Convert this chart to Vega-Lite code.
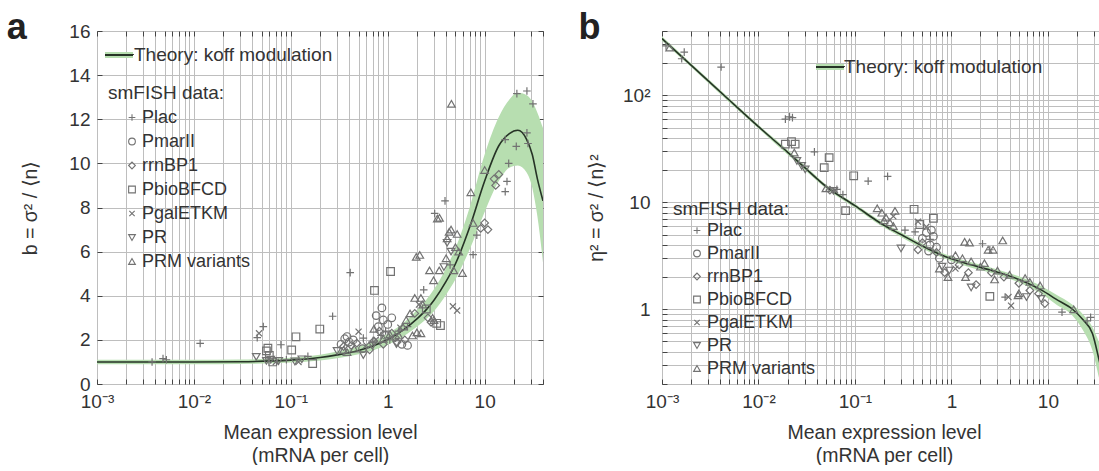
{
  "$schema": "https://vega.github.io/schema/vega-lite/v6.json",
  "padding": {"left": 6, "top": 9, "right": 0, "bottom": 0},
  "background": "white",
  "config": {
    "font": "Liberation Sans",
    "view": {"stroke": "#333", "strokeWidth": 1},
    "axis": {"labelFont": "Liberation Sans", "labelFontSize": 19, "labelColor": "#333", "titleFont": "Liberation Sans", "titleFontSize": 19.5, "titleFontWeight": "normal", "titleColor": "#333", "tickColor": "#444", "tickSize": -5, "domain": false, "gridColor": "#bebebe", "gridWidth": 1, "gridOpacity": 1, "labelOverlap": false, "labelFlush": false, "labelBound": false},
    "legend": {"labelFont": "Liberation Sans", "labelFontSize": 18, "labelColor": "#333", "titleFont": "Liberation Sans", "titleFontSize": 19, "titleFontWeight": "normal", "titleColor": "#333", "labelLimit": 400}
  },
  "datasets": {
    "theoryA": [
      {"x": 0.001, "lo": 0.9, "mid": 1.0, "hi": 1.1, "series": "Theory: koff modulation"},
      {"x": 0.01, "lo": 0.9, "mid": 1.0, "hi": 1.1, "series": "Theory: koff modulation"},
      {"x": 0.03, "lo": 0.91, "mid": 1.01, "hi": 1.11, "series": "Theory: koff modulation"},
      {"x": 0.1, "lo": 0.97, "mid": 1.08, "hi": 1.19, "series": "Theory: koff modulation"},
      {"x": 0.2, "lo": 1.07, "mid": 1.2, "hi": 1.33, "series": "Theory: koff modulation"},
      {"x": 0.3, "lo": 1.17, "mid": 1.32, "hi": 1.47, "series": "Theory: koff modulation"},
      {"x": 0.5, "lo": 1.35, "mid": 1.52, "hi": 1.7, "series": "Theory: koff modulation"},
      {"x": 0.7, "lo": 1.52, "mid": 1.72, "hi": 1.93, "series": "Theory: koff modulation"},
      {"x": 1, "lo": 1.78, "mid": 2.02, "hi": 2.28, "series": "Theory: koff modulation"},
      {"x": 1.5, "lo": 2.2, "mid": 2.5, "hi": 2.82, "series": "Theory: koff modulation"},
      {"x": 2, "lo": 2.6, "mid": 2.95, "hi": 3.35, "series": "Theory: koff modulation"},
      {"x": 2.5, "lo": 2.95, "mid": 3.37, "hi": 3.82, "series": "Theory: koff modulation"},
      {"x": 3, "lo": 3.3, "mid": 3.8, "hi": 4.3, "series": "Theory: koff modulation"},
      {"x": 4, "lo": 4.05, "mid": 4.65, "hi": 5.25, "series": "Theory: koff modulation"},
      {"x": 5, "lo": 4.75, "mid": 5.45, "hi": 6.15, "series": "Theory: koff modulation"},
      {"x": 7, "lo": 6.1, "mid": 7.1, "hi": 8.0, "series": "Theory: koff modulation"},
      {"x": 10, "lo": 7.8, "mid": 9.2, "hi": 10.4, "series": "Theory: koff modulation"},
      {"x": 14, "lo": 9.2, "mid": 10.8, "hi": 12.1, "series": "Theory: koff modulation"},
      {"x": 18, "lo": 9.8, "mid": 11.35, "hi": 12.9, "series": "Theory: koff modulation"},
      {"x": 22, "lo": 9.9, "mid": 11.5, "hi": 13.2, "series": "Theory: koff modulation"},
      {"x": 27, "lo": 9.6, "mid": 11.1, "hi": 13.1, "series": "Theory: koff modulation"},
      {"x": 31, "lo": 8.9, "mid": 10.4, "hi": 12.8, "series": "Theory: koff modulation"},
      {"x": 35, "lo": 7.6, "mid": 9.3, "hi": 12.3, "series": "Theory: koff modulation"},
      {"x": 40, "lo": 5.5, "mid": 8.3, "hi": 11.6, "series": "Theory: koff modulation"}
    ],
    "theoryB": [
      {"x": 0.001, "lo": 325, "mid": 340, "hi": 355, "series": "Theory: koff modulation"},
      {"x": 0.002, "lo": 184, "mid": 192, "hi": 200, "series": "Theory: koff modulation"},
      {"x": 0.005, "lo": 86, "mid": 90, "hi": 94, "series": "Theory: koff modulation"},
      {"x": 0.01, "lo": 49, "mid": 51, "hi": 53, "series": "Theory: koff modulation"},
      {"x": 0.02, "lo": 28, "mid": 29.5, "hi": 31, "series": "Theory: koff modulation"},
      {"x": 0.03, "lo": 20.2, "mid": 21.2, "hi": 22.2, "series": "Theory: koff modulation"},
      {"x": 0.05, "lo": 13.5, "mid": 14.1, "hi": 14.7, "series": "Theory: koff modulation"},
      {"x": 0.1, "lo": 8.9, "mid": 9.3, "hi": 9.7, "series": "Theory: koff modulation"},
      {"x": 0.2, "lo": 5.8, "mid": 6.1, "hi": 6.4, "series": "Theory: koff modulation"},
      {"x": 0.3, "lo": 4.75, "mid": 5.0, "hi": 5.25, "series": "Theory: koff modulation"},
      {"x": 0.5, "lo": 3.7, "mid": 3.9, "hi": 4.1, "series": "Theory: koff modulation"},
      {"x": 0.8, "lo": 3.05, "mid": 3.2, "hi": 3.35, "series": "Theory: koff modulation"},
      {"x": 1.3, "lo": 2.6, "mid": 2.75, "hi": 2.9, "series": "Theory: koff modulation"},
      {"x": 2.6, "lo": 2.18, "mid": 2.31, "hi": 2.45, "series": "Theory: koff modulation"},
      {"x": 5, "lo": 1.78, "mid": 1.9, "hi": 2.03, "series": "Theory: koff modulation"},
      {"x": 8.7, "lo": 1.38, "mid": 1.5, "hi": 1.63, "series": "Theory: koff modulation"},
      {"x": 12, "lo": 1.12, "mid": 1.25, "hi": 1.38, "series": "Theory: koff modulation"},
      {"x": 18, "lo": 0.87, "mid": 1.0, "hi": 1.1, "series": "Theory: koff modulation"},
      {"x": 23, "lo": 0.64, "mid": 0.8, "hi": 0.9, "series": "Theory: koff modulation"},
      {"x": 29, "lo": 0.41, "mid": 0.59, "hi": 0.68, "series": "Theory: koff modulation"},
      {"x": 35, "lo": 0.2, "mid": 0.3, "hi": 0.45, "series": "Theory: koff modulation"},
      {"x": 40, "lo": 0.12, "mid": 0.2, "hi": 0.3, "series": "Theory: koff modulation"}
    ],
    "ptsA": [
      {"x": 0.0037, "y": 1.0, "promoter": "Plac"}, {"x": 0.0048, "y": 1.15, "promoter": "Plac"}, {"x": 0.0052, "y": 1.1, "promoter": "Plac"}, {"x": 0.0116, "y": 1.84, "promoter": "Plac"}, {"x": 0.045, "y": 2.1, "promoter": "Plac"}, {"x": 0.052, "y": 2.6, "promoter": "Plac"}, {"x": 0.079, "y": 1.78, "promoter": "Plac"}, {"x": 0.15, "y": 1.25, "promoter": "Plac"}, {"x": 0.27, "y": 3.07, "promoter": "Plac"}, {"x": 0.41, "y": 5.05, "promoter": "Plac"}, {"x": 0.56, "y": 2.08, "promoter": "Plac"}, {"x": 0.95, "y": 2.4, "promoter": "Plac"}, {"x": 1.05, "y": 2.0, "promoter": "Plac"}, {"x": 1.3, "y": 2.4, "promoter": "Plac"}, {"x": 1.6, "y": 2.6, "promoter": "Plac"}, {"x": 2.35, "y": 4.27, "promoter": "Plac"}, {"x": 3.05, "y": 7.73, "promoter": "Plac"}, {"x": 3.9, "y": 8.3, "promoter": "Plac"}, {"x": 4.4, "y": 5.4, "promoter": "Plac"}, {"x": 7.6, "y": 5.86, "promoter": "Plac"}, {"x": 8.3, "y": 6.75, "promoter": "Plac"}, {"x": 16.3, "y": 11.08, "promoter": "Plac"}, {"x": 17.7, "y": 10.0, "promoter": "Plac"}, {"x": 17.0, "y": 9.18, "promoter": "Plac"}, {"x": 16.3, "y": 8.72, "promoter": "Plac"}, {"x": 21.2, "y": 10.77, "promoter": "Plac"}, {"x": 21.5, "y": 13.16, "promoter": "Plac"}, {"x": 27.3, "y": 13.28, "promoter": "Plac"}, {"x": 31.5, "y": 12.7, "promoter": "Plac"}, {"x": 27.3, "y": 11.38, "promoter": "Plac"}, {"x": 28, "y": 10.9, "promoter": "Plac"}, {"x": 0.09, "y": 1.1, "promoter": "Plac"}, {"x": 0.7, "y": 1.9, "promoter": "Plac"}, {"x": 0.85, "y": 2.2, "promoter": "Plac"},
      {"x": 0.33, "y": 1.8, "promoter": "PmarII"}, {"x": 0.36, "y": 2.05, "promoter": "PmarII"}, {"x": 0.4, "y": 1.9, "promoter": "PmarII"}, {"x": 0.44, "y": 2.0, "promoter": "PmarII"}, {"x": 0.38, "y": 2.15, "promoter": "PmarII"}, {"x": 0.87, "y": 3.45, "promoter": "PmarII"}, {"x": 0.76, "y": 3.1, "promoter": "PmarII"}, {"x": 0.8, "y": 2.6, "promoter": "PmarII"}, {"x": 0.9, "y": 2.9, "promoter": "PmarII"}, {"x": 1.0, "y": 2.7, "promoter": "PmarII"}, {"x": 0.95, "y": 2.2, "promoter": "PmarII"}, {"x": 1.4, "y": 1.8, "promoter": "PmarII"}, {"x": 1.6, "y": 1.75, "promoter": "PmarII"}, {"x": 0.55, "y": 1.6, "promoter": "PmarII"}, {"x": 1.1, "y": 3.0, "promoter": "PmarII"},
      {"x": 0.35, "y": 1.7, "promoter": "rrnBP1"}, {"x": 0.42, "y": 1.75, "promoter": "rrnBP1"}, {"x": 0.48, "y": 1.85, "promoter": "rrnBP1"}, {"x": 0.72, "y": 1.95, "promoter": "rrnBP1"}, {"x": 0.82, "y": 2.4, "promoter": "rrnBP1"}, {"x": 0.9, "y": 1.8, "promoter": "rrnBP1"}, {"x": 1.1, "y": 2.3, "promoter": "rrnBP1"}, {"x": 1.2, "y": 2.1, "promoter": "rrnBP1"}, {"x": 1.25, "y": 1.9, "promoter": "rrnBP1"}, {"x": 1.5, "y": 2.0, "promoter": "rrnBP1"}, {"x": 2.6, "y": 3.0, "promoter": "rrnBP1"}, {"x": 2.8, "y": 2.8, "promoter": "rrnBP1"}, {"x": 9.1, "y": 7.05, "promoter": "rrnBP1"}, {"x": 10, "y": 7.3, "promoter": "rrnBP1"}, {"x": 10.8, "y": 7.0, "promoter": "rrnBP1"}, {"x": 12.5, "y": 9.3, "promoter": "rrnBP1"}, {"x": 13, "y": 9.0, "promoter": "rrnBP1"}, {"x": 14, "y": 9.5, "promoter": "rrnBP1"}, {"x": 1.9, "y": 3.2, "promoter": "rrnBP1"}, {"x": 0.65, "y": 1.55, "promoter": "rrnBP1"},
      {"x": 0.056, "y": 1.5, "promoter": "PbioBFCD"}, {"x": 0.058, "y": 1.62, "promoter": "PbioBFCD"}, {"x": 0.06, "y": 1.3, "promoter": "PbioBFCD"}, {"x": 0.102, "y": 1.54, "promoter": "PbioBFCD"}, {"x": 0.113, "y": 2.14, "promoter": "PbioBFCD"}, {"x": 0.168, "y": 0.93, "promoter": "PbioBFCD"}, {"x": 0.199, "y": 2.49, "promoter": "PbioBFCD"}, {"x": 0.73, "y": 4.24, "promoter": "PbioBFCD"}, {"x": 1.07, "y": 5.1, "promoter": "PbioBFCD"}, {"x": 3.5, "y": 2.65, "promoter": "PbioBFCD"}, {"x": 3.2, "y": 2.75, "promoter": "PbioBFCD"}, {"x": 0.065, "y": 1.0, "promoter": "PbioBFCD"}, {"x": 2.5, "y": 3.4, "promoter": "PbioBFCD"},
      {"x": 0.047, "y": 2.3, "promoter": "PgalETKM"}, {"x": 0.07, "y": 1.0, "promoter": "PgalETKM"}, {"x": 0.5, "y": 2.37, "promoter": "PgalETKM"}, {"x": 0.6, "y": 1.75, "promoter": "PgalETKM"}, {"x": 4.7, "y": 3.52, "promoter": "PgalETKM"}, {"x": 5.2, "y": 3.33, "promoter": "PgalETKM"}, {"x": 1.35, "y": 2.55, "promoter": "PgalETKM"}, {"x": 2.1, "y": 3.6, "promoter": "PgalETKM"}, {"x": 0.12, "y": 1.0, "promoter": "PgalETKM"}, {"x": 0.75, "y": 2.0, "promoter": "PgalETKM"},
      {"x": 0.044, "y": 1.23, "promoter": "PR"}, {"x": 0.056, "y": 1.05, "promoter": "PR"}, {"x": 0.062, "y": 1.1, "promoter": "PR"}, {"x": 0.075, "y": 1.05, "promoter": "PR"}, {"x": 0.11, "y": 1.02, "promoter": "PR"}, {"x": 0.13, "y": 1.12, "promoter": "PR"}, {"x": 0.56, "y": 1.31, "promoter": "PR"}, {"x": 1.23, "y": 1.81, "promoter": "PR"}, {"x": 0.7, "y": 1.75, "promoter": "PR"}, {"x": 4.1, "y": 6.4, "promoter": "PR"}, {"x": 4.5, "y": 6.0, "promoter": "PR"}, {"x": 3.8, "y": 5.3, "promoter": "PR"}, {"x": 0.3, "y": 1.5, "promoter": "PR"},
      {"x": 0.35, "y": 1.55, "promoter": "PRM variants"}, {"x": 0.38, "y": 1.45, "promoter": "PRM variants"}, {"x": 0.45, "y": 1.6, "promoter": "PRM variants"}, {"x": 0.72, "y": 2.5, "promoter": "PRM variants"}, {"x": 0.9, "y": 2.05, "promoter": "PRM variants"}, {"x": 1.05, "y": 2.25, "promoter": "PRM variants"}, {"x": 1.43, "y": 2.6, "promoter": "PRM variants"}, {"x": 1.55, "y": 2.9, "promoter": "PRM variants"}, {"x": 1.7, "y": 3.2, "promoter": "PRM variants"}, {"x": 1.97, "y": 5.76, "promoter": "PRM variants"}, {"x": 2.14, "y": 5.85, "promoter": "PRM variants"}, {"x": 2.0, "y": 2.34, "promoter": "PRM variants"}, {"x": 2.2, "y": 2.3, "promoter": "PRM variants"}, {"x": 2.3, "y": 3.6, "promoter": "PRM variants"}, {"x": 2.7, "y": 5.15, "promoter": "PRM variants"}, {"x": 2.97, "y": 4.7, "promoter": "PRM variants"}, {"x": 3.25, "y": 7.5, "promoter": "PRM variants"}, {"x": 3.4, "y": 5.15, "promoter": "PRM variants"}, {"x": 2.9, "y": 3.0, "promoter": "PRM variants"}, {"x": 4.0, "y": 5.7, "promoter": "PRM variants"}, {"x": 4.1, "y": 6.6, "promoter": "PRM variants"}, {"x": 4.3, "y": 6.9, "promoter": "PRM variants"}, {"x": 4.5, "y": 7.0, "promoter": "PRM variants"}, {"x": 4.54, "y": 12.7, "promoter": "PRM variants"}, {"x": 4.8, "y": 5.15, "promoter": "PRM variants"}, {"x": 5.0, "y": 6.2, "promoter": "PRM variants"}, {"x": 5.2, "y": 6.8, "promoter": "PRM variants"}, {"x": 5.4, "y": 6.0, "promoter": "PRM variants"}, {"x": 5.9, "y": 5.03, "promoter": "PRM variants"}, {"x": 7.2, "y": 8.69, "promoter": "PRM variants"}, {"x": 7.6, "y": 7.3, "promoter": "PRM variants"}, {"x": 10.0, "y": 9.7, "promoter": "PRM variants"}, {"x": 3.42, "y": 7.53, "promoter": "PRM variants"}, {"x": 1.8, "y": 2.2, "promoter": "PRM variants"}, {"x": 1.9, "y": 3.9, "promoter": "PRM variants"}, {"x": 2.2, "y": 3.9, "promoter": "PRM variants"}, {"x": 3.0, "y": 2.9, "promoter": "PRM variants"}, {"x": 1.3, "y": 2.2, "promoter": "PRM variants"}
    ],
    "ptsB": [
      {"x": 0.0011, "y": 290, "promoter": "Plac"}, {"x": 0.0016, "y": 220, "promoter": "Plac"}, {"x": 0.0017, "y": 254, "promoter": "Plac"}, {"x": 0.0041, "y": 184, "promoter": "Plac"}, {"x": 0.019, "y": 60, "promoter": "Plac"}, {"x": 0.021, "y": 63, "promoter": "Plac"}, {"x": 0.0225, "y": 62, "promoter": "Plac"}, {"x": 0.038, "y": 29.6, "promoter": "Plac"}, {"x": 0.065, "y": 13.2, "promoter": "Plac"}, {"x": 0.075, "y": 11.8, "promoter": "Plac"}, {"x": 0.137, "y": 15.8, "promoter": "Plac"}, {"x": 0.218, "y": 17.5, "promoter": "Plac"}, {"x": 0.33, "y": 5.5, "promoter": "Plac"}, {"x": 0.42, "y": 5.3, "promoter": "Plac"}, {"x": 2.1, "y": 4.1, "promoter": "Plac"}, {"x": 3.6, "y": 1.3, "promoter": "Plac"}, {"x": 14, "y": 0.94, "promoter": "Plac"}, {"x": 25.5, "y": 0.78, "promoter": "Plac"}, {"x": 27.7, "y": 0.84, "promoter": "Plac"}, {"x": 2.5, "y": 3.6, "promoter": "Plac"}, {"x": 0.6, "y": 4.5, "promoter": "Plac"},
      {"x": 0.5, "y": 4.6, "promoter": "PmarII"}, {"x": 0.55, "y": 5.2, "promoter": "PmarII"}, {"x": 0.6, "y": 4.0, "promoter": "PmarII"}, {"x": 0.65, "y": 4.8, "promoter": "PmarII"}, {"x": 0.7, "y": 3.8, "promoter": "PmarII"}, {"x": 0.58, "y": 3.5, "promoter": "PmarII"}, {"x": 0.62, "y": 5.5, "promoter": "PmarII"}, {"x": 0.75, "y": 3.0, "promoter": "PmarII"}, {"x": 1.0, "y": 2.9, "promoter": "PmarII"},
      {"x": 0.055, "y": 13.0, "promoter": "rrnBP1"}, {"x": 0.45, "y": 3.6, "promoter": "rrnBP1"}, {"x": 0.5, "y": 4.2, "promoter": "rrnBP1"}, {"x": 0.7, "y": 3.4, "promoter": "rrnBP1"}, {"x": 0.85, "y": 2.2, "promoter": "rrnBP1"}, {"x": 1.2, "y": 2.6, "promoter": "rrnBP1"}, {"x": 1.5, "y": 2.2, "promoter": "rrnBP1"}, {"x": 1.8, "y": 1.7, "promoter": "rrnBP1"}, {"x": 2.6, "y": 2.2, "promoter": "rrnBP1"}, {"x": 3.5, "y": 2.0, "promoter": "rrnBP1"}, {"x": 5, "y": 1.75, "promoter": "rrnBP1"}, {"x": 6.5, "y": 1.5, "promoter": "rrnBP1"}, {"x": 9.3, "y": 1.13, "promoter": "rrnBP1"}, {"x": 8, "y": 1.4, "promoter": "rrnBP1"},
      {"x": 0.019, "y": 35, "promoter": "PbioBFCD"}, {"x": 0.022, "y": 37, "promoter": "PbioBFCD"}, {"x": 0.024, "y": 35, "promoter": "PbioBFCD"}, {"x": 0.048, "y": 21.1, "promoter": "PbioBFCD"}, {"x": 0.054, "y": 26.2, "promoter": "PbioBFCD"}, {"x": 0.08, "y": 8.35, "promoter": "PbioBFCD"}, {"x": 0.097, "y": 17.7, "promoter": "PbioBFCD"}, {"x": 0.41, "y": 8.6, "promoter": "PbioBFCD"}, {"x": 0.65, "y": 7.1, "promoter": "PbioBFCD"}, {"x": 2.5, "y": 1.32, "promoter": "PbioBFCD"}, {"x": 0.47, "y": 6.2, "promoter": "PbioBFCD"},
      {"x": 0.062, "y": 13.0, "promoter": "PgalETKM"}, {"x": 0.45, "y": 6.6, "promoter": "PgalETKM"}, {"x": 0.55, "y": 5.9, "promoter": "PgalETKM"}, {"x": 4.15, "y": 1.08, "promoter": "PgalETKM"}, {"x": 3.9, "y": 1.3, "promoter": "PgalETKM"}, {"x": 1.1, "y": 2.4, "promoter": "PgalETKM"}, {"x": 0.25, "y": 7.4, "promoter": "PgalETKM"},
      {"x": 0.025, "y": 24.4, "promoter": "PR"}, {"x": 0.028, "y": 21.9, "promoter": "PR"}, {"x": 0.0305, "y": 20.3, "promoter": "PR"}, {"x": 0.06, "y": 12.8, "promoter": "PR"}, {"x": 0.3, "y": 3.7, "promoter": "PR"}, {"x": 0.8, "y": 2.5, "promoter": "PR"}, {"x": 0.95, "y": 2.3, "promoter": "PR"}, {"x": 1.6, "y": 1.6, "promoter": "PR"}, {"x": 6, "y": 1.3, "promoter": "PR"}, {"x": 8.5, "y": 1.25, "promoter": "PR"},
      {"x": 0.0012, "y": 280, "promoter": "PRM variants"}, {"x": 0.0235, "y": 29.2, "promoter": "PRM variants"}, {"x": 0.05, "y": 13.5, "promoter": "PRM variants"}, {"x": 0.17, "y": 8.8, "promoter": "PRM variants"}, {"x": 0.19, "y": 8.0, "promoter": "PRM variants"}, {"x": 0.21, "y": 7.2, "promoter": "PRM variants"}, {"x": 0.23, "y": 6.5, "promoter": "PRM variants"}, {"x": 0.25, "y": 6.0, "promoter": "PRM variants"}, {"x": 0.2, "y": 6.8, "promoter": "PRM variants"}, {"x": 0.26, "y": 8.3, "promoter": "PRM variants"}, {"x": 0.75, "y": 2.4, "promoter": "PRM variants"}, {"x": 0.92, "y": 2.0, "promoter": "PRM variants"}, {"x": 1.37, "y": 4.27, "promoter": "PRM variants"}, {"x": 1.54, "y": 4.2, "promoter": "PRM variants"}, {"x": 2.4, "y": 3.6, "promoter": "PRM variants"}, {"x": 2.7, "y": 3.6, "promoter": "PRM variants"}, {"x": 3.4, "y": 4.4, "promoter": "PRM variants"}, {"x": 1.3, "y": 3.0, "promoter": "PRM variants"}, {"x": 1.6, "y": 2.8, "promoter": "PRM variants"}, {"x": 2.0, "y": 2.5, "promoter": "PRM variants"}, {"x": 2.2, "y": 2.7, "promoter": "PRM variants"}, {"x": 3.0, "y": 2.3, "promoter": "PRM variants"}, {"x": 4.0, "y": 2.1, "promoter": "PRM variants"}, {"x": 5.0, "y": 1.41, "promoter": "PRM variants"}, {"x": 5.8, "y": 1.96, "promoter": "PRM variants"}, {"x": 4.9, "y": 1.35, "promoter": "PRM variants"}, {"x": 6.5, "y": 1.8, "promoter": "PRM variants"}, {"x": 8.3, "y": 1.67, "promoter": "PRM variants"}, {"x": 18.5, "y": 1.0, "promoter": "PRM variants"}, {"x": 1.1, "y": 3.2, "promoter": "PRM variants"}, {"x": 1.4, "y": 2.0, "promoter": "PRM variants"}, {"x": 2.8, "y": 1.9, "promoter": "PRM variants"}
    ]
  },
  "resolve": {"scale": {"x": "independent", "y": "independent", "fill": "independent", "shape": "independent"}, "legend": {"fill": "independent", "shape": "independent"}},
  "spacing": 34,
  "hconcat": [
    {
      "width": 446, "height": 353,
      "title": {"text": "a", "anchor": "start", "frame": "bounds", "fontSize": 36, "fontWeight": "bold", "color": "#222", "font": "Liberation Sans", "offset": -25, "dx": -14},
      "resolve": {"axis": {"x": "independent", "y": "independent"}},
      "layer": [
        {
          "data": {"name": "theoryA"},
          "mark": {"type": "area", "clip": true, "interpolate": "monotone", "opacity": 1},
          "encoding": {
            "x": {"field": "x", "type": "quantitative", "scale": {"type": "log", "domain": [0.001, 40], "nice": false},
                  "axis": {"orient": "bottom", "values": [0.001,0.002,0.003,0.004,0.005,0.006,0.007,0.008,0.009,0.01,0.02,0.03,0.04,0.05,0.06,0.07,0.08,0.09,0.1,0.2,0.3,0.4,0.5,0.6,0.7,0.8,0.9,1,2,3,4,5,6,7,8,9,10,20,30,40],
                           "labelExpr": "datum.value == 0.001 ? '10⁻³' : datum.value == 0.01 ? '10⁻²' : datum.value == 0.1 ? '10⁻¹' : datum.value == 1 ? '1' : datum.value == 10 ? '10' : ''",
                           "labelPadding": 13, "title": ["Mean expression level", "(mRNA per cell)"], "titlePadding": 12, "titleLineHeight": 23, "grid": true}},
            "y": {"field": "lo", "type": "quantitative", "scale": {"domain": [0, 16], "nice": false},
                  "axis": {"orient": "left", "values": [0,2,4,6,8,10,12,14,16], "labelPadding": 12, "title": "b = σ² / ⟨n⟩", "titlePadding": 28, "grid": true}},
            "y2": {"field": "hi"},
            "fill": {"field": "series", "type": "nominal", "scale": {"range": ["#b7deb0"]},
                     "legend": {"orient": "none", "legendX": 12, "legendY": 14, "title": null, "labelFontSize": 19, "symbolType": "M-1.6,0H1.6V0.35H-1.6V-0.35H1.6V0", "symbolSize": 306, "symbolStrokeColor": "#263326", "symbolStrokeWidth": 1.8, "symbolDash": [28, 500], "labelOffset": 5}}
          }
        },
        {
          "data": {"name": "theoryA"},
          "mark": {"type": "line", "clip": true, "interpolate": "monotone", "color": "#263326", "strokeWidth": 1.6},
          "encoding": {
            "x": {"field": "x", "type": "quantitative", "axis": {"orient": "top", "values": [0.001,0.002,0.003,0.004,0.005,0.006,0.007,0.008,0.009,0.01,0.02,0.03,0.04,0.05,0.06,0.07,0.08,0.09,0.1,0.2,0.3,0.4,0.5,0.6,0.7,0.8,0.9,1,2,3,4,5,6,7,8,9,10,20,30,40], "labels": false, "grid": false, "title": null}},
            "y": {"field": "mid", "type": "quantitative", "axis": {"orient": "right", "values": [0,2,4,6,8,10,12,14,16], "labels": false, "grid": false, "title": null}}
          }
        },
        {
          "data": {"name": "ptsA"},
          "mark": {"type": "point", "filled": false, "color": "#727272", "size": 58, "strokeWidth": 1.2, "opacity": 1, "clip": true},
          "encoding": {
            "x": {"field": "x", "type": "quantitative", "axis": null},
            "y": {"field": "y", "type": "quantitative", "axis": null},
            "shape": {"field": "promoter", "type": "nominal",
                      "scale": {"domain": ["Plac", "PmarII", "rrnBP1", "PbioBFCD", "PgalETKM", "PR", "PRM variants"], "range": ["M-1,0H1M0,-1V1", "circle", "diamond", "square", "M-0.8,-0.8L0.8,0.8M-0.8,0.8L0.8,-0.8", "triangle-down", "triangle-up"]},
                      "legend": {"orient": "none", "legendX": 11, "legendY": 53, "title": "smFISH data:", "symbolOffset": 15, "symbolSize": 45, "symbolStrokeColor": "#727272", "symbolStrokeWidth": 1.1, "symbolFillColor": "transparent", "rowPadding": 6, "titlePadding": 5.5, "labelOffset": 1, "titleAnchor": "start"}}
          }
        }
      ]
    },
    {
      "width": 444, "height": 353,
      "title": {"text": "b", "anchor": "start", "frame": "bounds", "fontSize": 36, "fontWeight": "bold", "color": "#222", "font": "Liberation Sans", "offset": -25, "dx": -8},
      "resolve": {"axis": {"x": "independent", "y": "independent"}},
      "layer": [
        {
          "data": {"name": "theoryB"},
          "mark": {"type": "area", "clip": true, "interpolate": "monotone", "opacity": 1},
          "encoding": {
            "x": {"field": "x", "type": "quantitative", "scale": {"type": "log", "domain": [0.001, 40], "nice": false},
                  "axis": {"orient": "bottom", "values": [0.001,0.002,0.003,0.004,0.005,0.006,0.007,0.008,0.009,0.01,0.02,0.03,0.04,0.05,0.06,0.07,0.08,0.09,0.1,0.2,0.3,0.4,0.5,0.6,0.7,0.8,0.9,1,2,3,4,5,6,7,8,9,10,20,30,40],
                           "labelExpr": "datum.value == 0.001 ? '10⁻³' : datum.value == 0.01 ? '10⁻²' : datum.value == 0.1 ? '10⁻¹' : datum.value == 1 ? '1' : datum.value == 10 ? '10' : ''",
                           "labelPadding": 13, "title": ["Mean expression level", "(mRNA per cell)"], "titlePadding": 12, "titleLineHeight": 23, "grid": true}},
            "y": {"field": "lo", "type": "quantitative", "scale": {"type": "log", "domain": [0.2, 400], "nice": false},
                  "axis": {"orient": "left", "values": [0.2,0.3,0.4,0.5,0.6,0.7,0.8,0.9,1,2,3,4,5,6,7,8,9,10,20,30,40,50,60,70,80,90,100,200,300,400],
                           "labelExpr": "datum.value == 1 ? '1' : datum.value == 10 ? '10' : datum.value == 100 ? '10²' : ''",
                           "labelPadding": 17, "title": "η² = σ² / ⟨n⟩²", "titlePadding": 16, "grid": true}},
            "y2": {"field": "hi"},
            "fill": {"field": "series", "type": "nominal", "scale": {"range": ["#b7deb0"]},
                     "legend": {"orient": "none", "legendX": 158, "legendY": 26, "title": null, "labelFontSize": 19, "symbolType": "M-1.6,0H1.6V0.35H-1.6V-0.35H1.6V0", "symbolSize": 306, "symbolStrokeColor": "#263326", "symbolStrokeWidth": 1.8, "symbolDash": [28, 500], "labelOffset": 4}}
          }
        },
        {
          "data": {"name": "theoryB"},
          "mark": {"type": "line", "clip": true, "interpolate": "monotone", "color": "#263326", "strokeWidth": 1.6},
          "encoding": {
            "x": {"field": "x", "type": "quantitative", "axis": {"orient": "top", "values": [0.001,0.002,0.003,0.004,0.005,0.006,0.007,0.008,0.009,0.01,0.02,0.03,0.04,0.05,0.06,0.07,0.08,0.09,0.1,0.2,0.3,0.4,0.5,0.6,0.7,0.8,0.9,1,2,3,4,5,6,7,8,9,10,20,30,40], "labels": false, "grid": false, "title": null}},
            "y": {"field": "mid", "type": "quantitative", "axis": {"orient": "right", "values": [0.2,0.3,0.4,0.5,0.6,0.7,0.8,0.9,1,2,3,4,5,6,7,8,9,10,20,30,40,50,60,70,80,90,100,200,300,400], "labels": false, "grid": false, "title": null}}
          }
        },
        {
          "data": {"name": "ptsB"},
          "mark": {"type": "point", "filled": false, "color": "#727272", "size": 58, "strokeWidth": 1.2, "opacity": 1, "clip": true},
          "encoding": {
            "x": {"field": "x", "type": "quantitative", "axis": null},
            "y": {"field": "y", "type": "quantitative", "axis": null},
            "shape": {"field": "promoter", "type": "nominal",
                      "scale": {"domain": ["Plac", "PmarII", "rrnBP1", "PbioBFCD", "PgalETKM", "PR", "PRM variants"], "range": ["M-1,0H1M0,-1V1", "circle", "diamond", "square", "M-0.8,-0.8L0.8,0.8M-0.8,0.8L0.8,-0.8", "triangle-down", "triangle-up"]},
                      "legend": {"orient": "none", "legendX": 11, "legendY": 169, "title": "smFISH data:", "symbolOffset": 15, "symbolSize": 45, "symbolStrokeColor": "#727272", "symbolStrokeWidth": 1.1, "symbolFillColor": "transparent", "rowPadding": 5, "titlePadding": 2.5, "labelOffset": 1, "titleAnchor": "start"}}
          }
        }
      ]
    }
  ]
}
